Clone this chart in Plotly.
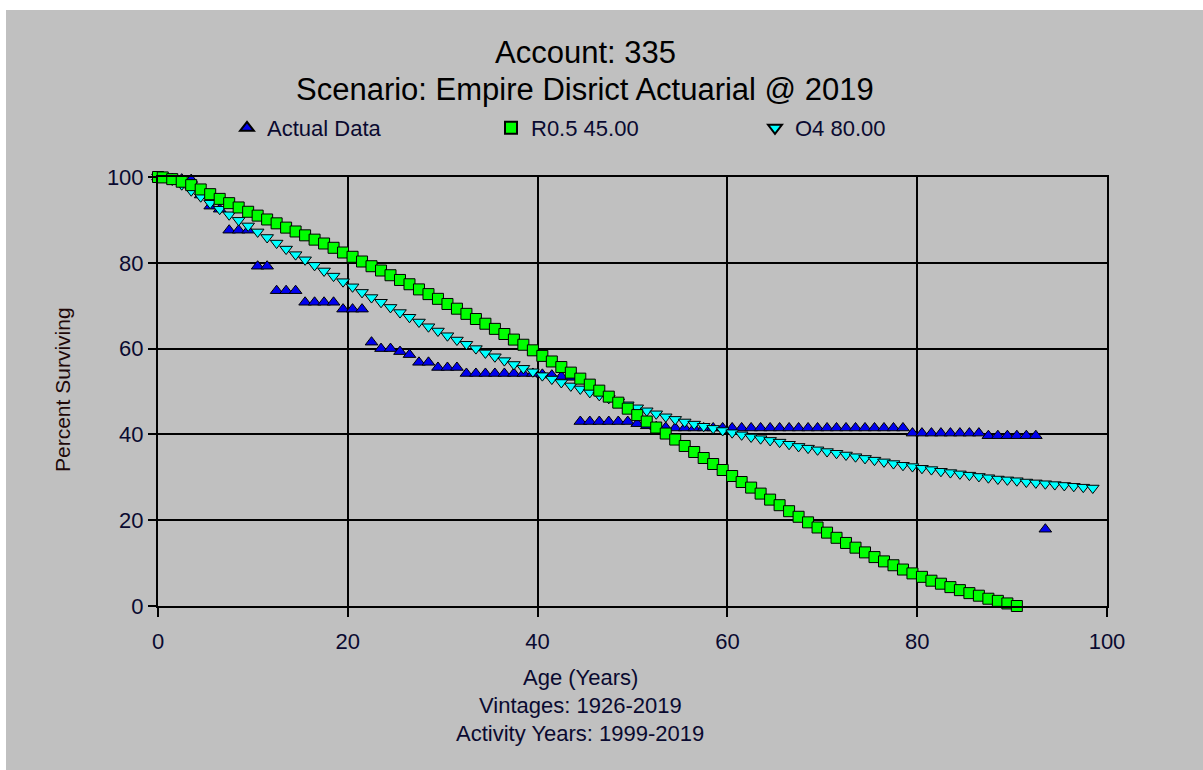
import plotly.graph_objects as go

# ---------------- data ----------------
actual_age = [0, 0.5] + [i + 0.5 for i in range(1, 94)]
actual_pct = [100.0, 100.0, 99.6, 99.5, 99.4, 95.8, 93.2, 92.5,
              87.6, 87.6, 87.6,
              79.2, 79.2,
              73.5, 73.5, 73.5,
              70.8, 70.8, 70.8, 70.8,
              69.2, 69.2, 69.2,
              61.5, 60.0, 60.0, 59.3, 58.6, 56.8, 56.8,
              55.6, 55.6, 55.6,
              54.2, 54.2, 54.2, 54.2, 54.2, 54.2, 54.2, 54.2,
              54.0, 53.8, 53.5, 53.3,
              43.0, 43.0, 43.0, 43.0, 43.0, 43.0,
              42.5, 42.0, 41.8, 41.6,
              41.5, 41.5, 41.5, 41.5, 41.5, 41.5, 41.5, 41.5, 41.5, 41.5,
              41.5, 41.5, 41.5, 41.5, 41.5, 41.5, 41.5, 41.5, 41.5, 41.5,
              41.5, 41.5, 41.5, 41.5, 41.5,
              40.3, 40.3, 40.3, 40.3, 40.3, 40.3, 40.3, 40.3,
              39.7, 39.7, 39.7, 39.7, 39.7, 39.7,
              17.9]

r05_age = [0] + [i + 0.5 for i in range(0, 91)]
r05_pct = [100.0, 99.9, 99.5, 98.9, 98.1, 97.1, 96.0, 94.9, 93.9, 92.9, 91.9,
           91.0, 90.1, 89.2, 88.2, 87.3, 86.4, 85.4, 84.5, 83.5, 82.4,
           81.4, 80.3, 79.2, 78.2, 77.1, 76.0, 75.0, 73.8, 72.7, 71.6,
           70.4, 69.3, 68.1, 66.9, 65.8, 64.6, 63.4, 62.1, 60.9, 59.6,
           58.3, 57.0, 55.7, 54.4, 53.0, 51.6, 50.2, 48.8, 47.4, 46.0,
           44.5, 43.0, 41.6, 40.2, 38.8, 37.3, 35.9, 34.5, 33.1, 31.7,
           30.3, 28.9, 27.6, 26.2, 24.8, 23.5, 22.1, 20.8, 19.5, 18.3,
           17.1, 15.9, 14.7, 13.6, 12.5, 11.4, 10.4, 9.5, 8.5, 7.6,
           6.8, 5.9, 5.2, 4.4, 3.7, 3.0, 2.4, 1.7, 1.2, 0.6, 0.0]

o4_age = [0] + [i + 0.5 for i in range(0, 99)]
o4_pct = [100.0, 99.9, 99.3, 98.2, 96.8, 95.4, 93.9, 92.5, 91.2, 89.9, 88.6,
          87.2, 85.9, 84.6, 83.2, 81.9, 80.7, 79.4, 78.1, 76.9, 75.6,
          74.4, 73.1, 71.9, 70.8, 69.6, 68.4, 67.3, 66.2, 65.1, 64.1,
          63.0, 62.0, 61.0, 60.0, 59.0, 58.1, 57.2, 56.3, 55.4, 54.6,
          53.7, 52.9, 52.1, 51.3, 50.6, 49.8, 49.1, 48.4, 47.6, 46.9,
          46.2, 45.5, 44.8, 44.1, 43.5, 42.9, 42.4, 41.9, 41.4, 40.9,
          40.4, 39.9, 39.4, 39.0, 38.6, 38.2, 37.7, 37.2, 36.8, 36.4,
          36.0, 35.6, 35.2, 34.8, 34.4, 34.0, 33.6, 33.2, 32.8, 32.5,
          32.1, 31.8, 31.4, 31.1, 30.8, 30.5, 30.2, 29.9, 29.6, 29.4,
          29.2, 28.9, 28.7, 28.5, 28.3, 28.1, 27.9, 27.7, 27.5]

x_ticks = [0, 20, 40, 60, 80, 100]
y_ticks = [0, 20, 40, 60, 80, 100]

title_lines = ["Account: 335", "Scenario: Empire Disrict Actuarial @ 2019"]
x_title_lines = ["Age (Years)", "Vintages: 1926-2019", "Activity Years: 1999-2019"]
y_title = "Percent Surviving"

# ---------------- figure ----------------
W, H = 1203, 770
L, R, T, B = 158, 1107, 177, 606   # plot area in pixels
PW, PH = R - L, B - T

def px(xpix):
    return (xpix - L) / PW

def py(ypix):
    return (B - ypix) / PH

FONT = "Liberation Sans, Arial, sans-serif"
GREY = "#c0c0c0"
TXT = "#0a0a30"

fig = go.Figure()
fig.add_trace(go.Scatter(
    x=actual_age, y=actual_pct, mode="markers", name="Actual Data",
    legendrank=1, cliponaxis=False,
    marker=dict(symbol="triangle-up", size=11, color="#0000ee",
                line=dict(color="black", width=1))))
fig.add_trace(go.Scatter(
    x=o4_age, y=o4_pct, mode="markers", name="O4 80.00",
    legendrank=3, cliponaxis=False,
    marker=dict(symbol="triangle-down", size=11, color="#00ffff",
                line=dict(color="black", width=1))))
fig.add_trace(go.Scatter(
    x=r05_age, y=r05_pct, mode="markers", name="R0.5 45.00",
    legendrank=2, cliponaxis=False,
    marker=dict(symbol="square", size=11, color="#00ff00",
                line=dict(color="black", width=1))))

annotations = []
for txt, yp in zip(title_lines, [52, 89]):
    annotations.append(dict(text=txt, x=px(585), y=py(yp), xref="paper", yref="paper",
                            xanchor="center", yanchor="middle", showarrow=False,
                            font=dict(family=FONT, size=31, color="#000000")))
for txt, yp in zip(x_title_lines, [677, 705, 733]):
    annotations.append(dict(text=txt, x=px(580), y=py(yp), xref="paper", yref="paper",
                            xanchor="center", yanchor="middle", showarrow=False,
                            font=dict(family=FONT, size=22, color=TXT)))
annotations.append(dict(text=y_title, x=px(62), y=py(390), xref="paper", yref="paper",
                        xanchor="center", yanchor="middle", showarrow=False, textangle=-90,
                        font=dict(family=FONT, size=21, color="#200808")))

shapes = [
    dict(type="rect", xref="paper", yref="paper", x0=px(-5), x1=px(6), y0=py(W), y1=py(-5),
         fillcolor="white", line=dict(width=0), layer="below"),
    dict(type="rect", xref="paper", yref="paper", x0=px(-5), x1=px(W + 5), y0=py(10), y1=py(-5),
         fillcolor="white", line=dict(width=0), layer="below"),
]

axis_common = dict(range=[0, 100], showgrid=True, gridcolor="black", gridwidth=2,
                   showline=True, linecolor="black", linewidth=2, mirror=True,
                   zeroline=False, ticks="outside", tickcolor="black", tickwidth=2,
                   tickfont=dict(family=FONT, size=22, color=TXT), fixedrange=True)

fig.update_layout(
    width=W, height=H, autosize=False,
    margin=dict(l=L, r=W - R, t=T, b=H - B, pad=0),
    paper_bgcolor=GREY, plot_bgcolor=GREY,
    showlegend=True,
    legend=dict(orientation="h", x=px(227), y=py(128), xanchor="left", yanchor="middle",
                bgcolor="rgba(0,0,0,0)", font=dict(family=FONT, size=22, color=TXT),
                entrywidth=219, entrywidthmode="pixels", itemsizing="constant",
                traceorder="normal"),
    xaxis=dict(tickvals=x_ticks, ticktext=[str(v) for v in x_ticks], ticklen=9,
               ticklabelstandoff=6, **axis_common),
    yaxis=dict(tickvals=y_ticks, ticktext=[str(v) for v in y_ticks], ticklen=8,
               **axis_common),
    annotations=annotations,
    shapes=shapes,
)

fig.write_html(
    "out.html",
    config={"displayModeBar": False},
    post_script="document.body.style.margin='0';document.body.style.overflow='hidden';",
)
